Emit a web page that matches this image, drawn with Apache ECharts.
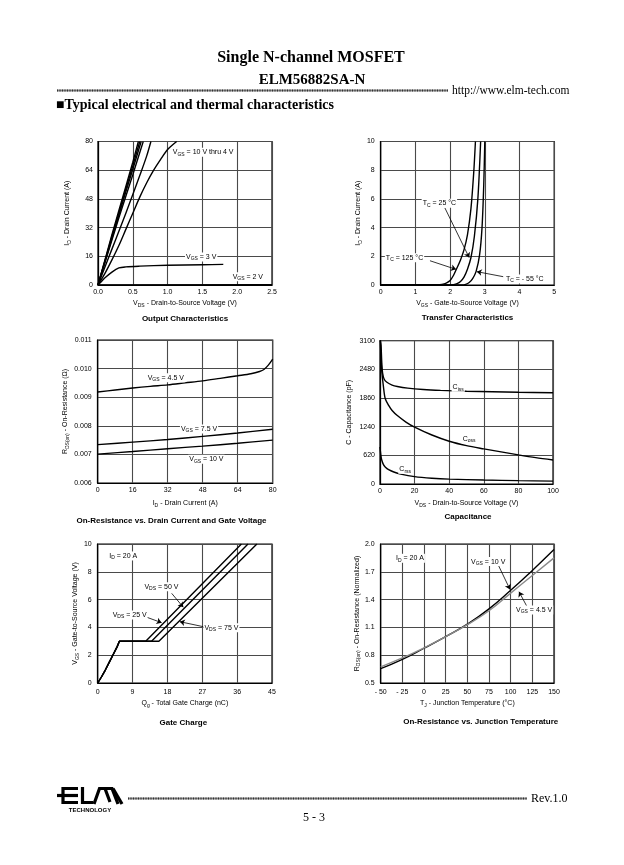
<!DOCTYPE html>
<html><head><meta charset="utf-8">
<script src="https://cdn.jsdelivr.net/npm/echarts@6/dist/echarts.min.js"></script>
<style>html,body{margin:0;padding:0;background:#fff}#c{width:624px;height:865px}</style>
</head><body><div id="c"></div>
<script>
// ---------- DATA ----------
// Output characteristics: [VDS (V), ID (A)]
const outVgs10 = [[0,0],[0.1,14],[0.2,28],[0.3,41.5],[0.4,55],[0.5,68.5],[0.58,80]];
const outVgs8  = [[0,0],[0.1,13.5],[0.2,27],[0.3,40],[0.4,53.5],[0.5,66.5],[0.6,80]];
const outVgs6  = [[0,0],[0.1,13],[0.2,26],[0.3,39],[0.4,52],[0.5,64.5],[0.62,80]];
const outVgs5  = [[0,0],[0.1,12.5],[0.2,25],[0.3,37.5],[0.4,49.5],[0.5,61.5],[0.65,80]];
const outVgs45 = [[0,0],[0.1,10],[0.2,20],[0.3,30],[0.4,40],[0.5,50.5],[0.6,61],[0.7,72],[0.76,80]];
const outVgs4  = [[0,0],[0.1,6.5],[0.2,14],[0.3,22],[0.4,31],[0.5,40],[0.6,49],[0.7,57],[0.8,64],[0.9,70],[1.0,75.5],[1.13,80]];
const outVgs3  = [[0,0],[0.05,2],[0.1,4],[0.2,7.2],[0.3,9.5],[0.4,10.1],[0.6,10.5],[1.0,11],[1.5,11.3],[1.8,11.5]];
const outVgs2  = [[0,0],[2.5,0.1]];
// Transfer characteristics: [VGS (V), ID (A)]
const trT125 = [[0,0],[1.6,0],[1.7,0.02],[1.8,0.06],[1.9,0.15],[2.0,0.32],[2.1,0.68],[2.2,1.2],[2.3,1.75],[2.4,2.45],[2.5,3.5],[2.6,5.3],[2.68,7.8],[2.73,10]];
const trT25  = [[0,0],[2.0,0],[2.1,0.03],[2.2,0.1],[2.3,0.25],[2.4,0.55],[2.5,1.1],[2.6,1.9],[2.7,3.4],[2.8,6.0],[2.88,10]];
const trTm55 = [[0,0],[2.35,0],[2.45,0.05],[2.55,0.18],[2.65,0.45],[2.75,0.95],[2.85,2.1],[2.92,4.0],[2.97,7.0],[3.0,10]];
// On-resistance vs drain current: [ID (A), RDS(on) (ohm)]
const rdsVgs45 = [[0,0.00918],[8,0.00925],[16,0.00932],[24,0.00938],[32,0.00943],[40,0.0095],[48,0.00957],[56,0.00966],[64,0.00975],[70,0.00982],[74,0.0099],[76,0.00997],[78,0.01012],[80,0.01033]];
const rdsVgs75 = [[0,0.00734],[16,0.00743],[32,0.00752],[48,0.00763],[64,0.00775],[80,0.00788]];
const rdsVgs10 = [[0,0.00701],[16,0.0071],[32,0.0072],[48,0.00729],[64,0.00739],[80,0.0075]];
// Capacitance: [VDS (V), C (pF)]
const capCiss = [[0.2,3100],[0.6,3000],[1,2650],[1.5,2400],[2.5,2260],[4,2200],[7,2140],[10,2110],[16,2075],[25,2045],[35,2025],[50,2005],[65,1995],[80,1985],[100,1975]];
const capCoss = [[0.2,3100],[0.5,2800],[1,2450],[2,2100],[3,1850],[5,1700],[7,1590],[10,1480],[15,1340],[20,1230],[30,1060],[40,925],[50,830],[60,760],[70,695],[80,630],[90,570],[100,520]];
const capCrss = [[0,800],[0.5,620],[1,520],[2,420],[3,370],[5,310],[8,260],[12,215],[20,160],[30,125],[40,105],[60,85],[80,72],[100,62]];
// Gate charge: [Qg (nC), VGS (V)]
const qgVds25 = [[0,0],[1,0.45],[2,0.95],[3,1.5],[4,2.05],[5,2.6],[5.6,3],[12.4,3],[37.1,10]];
const qgVds50 = [[0,0],[1,0.45],[2,0.95],[3,1.5],[4,2.05],[5,2.6],[5.6,3],[13.9,3],[38.8,10]];
const qgVds75 = [[0,0],[1,0.45],[2,0.95],[3,1.5],[4,2.05],[5,2.6],[5.6,3],[15.8,3],[41.1,10]];
// On-resistance vs junction temperature: [TJ (°C), normalized]
const tjVgs10 = [[-50,0.655],[-25,0.755],[0,0.875],[25,1.0],[50,1.135],[75,1.3],[100,1.5],[125,1.715],[150,1.94]];
const tjVgs45 = [[-50,0.675],[-25,0.77],[0,0.88],[25,1.0],[50,1.13],[75,1.28],[100,1.47],[125,1.66],[150,1.85]];

// ---------- STYLE HELPERS ----------
const SANS = 'Liberation Sans, Arial, Helvetica, sans-serif';
const SERIF = 'Liberation Serif, Times New Roman, serif';
const RICH = {
  t: {fontSize: 7, fontFamily: SANS, color: '#000', lineHeight: 9},
  s: {fontSize: 5, fontFamily: SANS, color: '#000', lineHeight: 9, verticalAlign: 'bottom', padding: [3, 0, 0, 0]}
};
const GRIDC = '#4a4a4a';
function sub(main, s, rest) { return '{t|' + main + '}{s|' + s + '}{t|' + rest + '}'; }

const grids = [
  {left: 98, top: 141.5, width: 174, height: 143.5},
  {left: 380.7, top: 141.5, width: 173.5, height: 143.5},
  {left: 97.7, top: 340, width: 175, height: 143},
  {left: 380, top: 340.7, width: 173, height: 143.3},
  {left: 97.7, top: 544, width: 174.3, height: 139},
  {left: 380.7, top: 544, width: 173.3, height: 139}
].map(g => Object.assign({show: true, borderColor: '#000', borderWidth: 1.2, backgroundColor: 'transparent'}, g));

function axis(dim, g, min, max, interval, fmt, name, gap, margin) {
  return {
    type: 'value', gridIndex: g, min: min, max: max, interval: interval,
    axisLine: {show: true, onZero: false, lineStyle: {color: '#000', width: 1.2}},
    axisTick: {show: false},
    axisLabel: {margin: margin, fontSize: 7, color: '#000', fontFamily: SANS, formatter: fmt},
    splitLine: {show: true, lineStyle: {color: GRIDC, width: 1.1}},
    name: name, nameLocation: 'middle', nameGap: gap,
    nameRotate: dim === 'y' ? 90 : 0,
    nameTextStyle: {rich: RICH}
  };
}
const f1 = v => v.toFixed(1);
const f3 = v => v.toFixed(3);
const f0 = v => String(Math.round(v));

const xAxes = [
  axis('x', 0, 0, 2.5, 0.5, f1, sub('V', 'DS', ' - Drain-to-Source Voltage (V)'), 14, 4),
  axis('x', 1, 0, 5, 1, f0, sub('V', 'GS', ' - Gate-to-Source Voltage (V)'), 14, 4),
  axis('x', 2, 0, 80, 16, f0, sub('I', 'D', ' - Drain Current (A)'), 16, 4),
  axis('x', 3, 0, 100, 20, f0, sub('V', 'DS', ' - Drain-to-Source Voltage (V)'), 15, 4),
  axis('x', 4, 0, 45, 9, f0, sub('Q', 'g', ' - Total Gate Charge (nC)'), 16, 6),
  axis('x', 5, -50, 150, 25, v => (v < 0 ? '- ' + Math.abs(v) : String(v)), sub('T', 'J', ' - Junction Temperature (°C)'), 16, 6)
];
const yAxes = [
  axis('y', 0, 0, 80, 16, f0, sub('I', 'D', ' - Drain Current (A)'), 26, 5),
  axis('y', 1, 0, 10, 2, f0, sub('I', 'D', ' - Drain Current (A)'), 17, 6),
  axis('y', 2, 0.006, 0.011, 0.001, f3, sub('R', 'DS(on)', ' - On-Resistance (Ω)'), 28, 6),
  axis('y', 3, 0, 3100, 620, f0, '{t|C - Capacitance (pF)}', 26, 5),
  axis('y', 4, 0, 10, 2, f0, sub('V', 'GS', ' - Gate-to-Source Voltage (V)'), 17, 6),
  axis('y', 5, 0.5, 2.0, 0.3, f1, sub('R', 'DS(on)', ' - On-Resistance (Normalized)'), 17, 6)
];

function labelPt(coord, text, bg) {
  return {coord: coord, value: 0, symbol: 'circle', symbolSize: 0,
    label: {show: true, position: 'right', distance: 0, formatter: text, rich: RICH,
      backgroundColor: bg ? '#fff' : 'transparent', padding: [0, 1, 0, 1]}};
}
function marks(labels, arrows) {
  const o = {};
  if (labels) o.markPoint = {silent: true, animation: false, symbolSize: 0, itemStyle: {color: 'transparent'}, data: labels};
  if (arrows) o.markLine = {silent: true, animation: false, symbol: ['none', 'arrow'], symbolSize: 5,
    lineStyle: {color: '#000', width: 0.8, type: 'solid'}, label: {show: false},
    data: arrows.map(a => [{coord: a[0]}, {coord: a[1]}])};
  return o;
}
function ser(g, data, extra, color, width, smooth) {
  return Object.assign({type: 'line', xAxisIndex: g, yAxisIndex: g, data: data, showSymbol: false, symbol: 'none',
    smooth: smooth === undefined ? 0.3 : smooth, animation: false,
    lineStyle: {color: color || '#000', width: width || 1.4}, z: 3}, extra || {});
}

const series = [
  ser(0, outVgs10, marks([
    labelPt([1.06, 74], sub('V', 'GS', ' = 10 V thru 4 V'), true),
    labelPt([1.25, 15.6], sub('V', 'GS', ' = 3 V'), true),
    labelPt([1.92, 4.6], sub('V', 'GS', ' = 2 V'), true)
  ])),
  ser(0, outVgs8), ser(0, outVgs6), ser(0, outVgs5), ser(0, outVgs45), ser(0, outVgs4), ser(0, outVgs3), ser(0, outVgs2),

  ser(1, trT125, marks([
    labelPt([1.18, 5.69], sub('T', 'C', ' = 25 °C'), true),
    labelPt([0.12, 1.9], sub('T', 'C', ' = 125 °C'), true),
    labelPt([3.58, 0.42], sub('T', 'C', ' = - 55 °C'), true)
  ], [
    [[1.85, 5.37], [2.55, 1.91]],
    [[1.42, 1.69], [2.17, 1.09]],
    [[3.53, 0.58], [2.77, 0.93]]
  ])),
  ser(1, trT25), ser(1, trTm55),

  ser(2, rdsVgs45, marks([
    labelPt([22.4, 0.00968], sub('V', 'GS', ' = 4.5 V'), true),
    labelPt([37.6, 0.00789], sub('V', 'GS', ' = 7.5 V'), true),
    labelPt([41.4, 0.00683], sub('V', 'GS', ' = 10 V'), true)
  ])),
  ser(2, rdsVgs75), ser(2, rdsVgs10),

  ser(3, capCiss, marks([
    labelPt([41.4, 2092], sub('C', 'iss', ''), true),
    labelPt([47.2, 973], sub('C', 'oss', ''), true),
    labelPt([10.6, 318], sub('C', 'rss', ''), true)
  ])),
  ser(3, capCoss), ser(3, capCrss),

  ser(4, qgVds25, marks([
    labelPt([2.74, 9.14], sub('I', 'D', ' = 20 A'), true),
    labelPt([11.8, 6.93], sub('V', 'DS', ' = 50 V'), true),
    labelPt([3.6, 4.89], sub('V', 'DS', ' = 25 V'), true),
    labelPt([27.3, 3.98], sub('V', 'DS', ' = 75 V'), true)
  ], [
    [[19.1, 6.45], [22.1, 5.45]],
    [[11.8, 4.82], [16.5, 4.34]],
    [[27.3, 4.05], [21.2, 4.41]]
  ]), null, 1.4, false),
  ser(4, qgVds50, null, null, 1.4, false), ser(4, qgVds75, null, null, 1.4, false),

  ser(5, tjVgs10, marks([
    labelPt([-33.5, 1.846], sub('I', 'D', ' = 20 A'), true),
    labelPt([53.1, 1.81], sub('V', 'GS', ' = 10 V'), true),
    labelPt([105, 1.288], sub('V', 'GS', ' = 4.5 V'), true)
  ], [
    [[85.7, 1.773], [99.2, 1.51]],
    [[118.5, 1.33], [109.6, 1.485]]
  ]), '#000', 1.4, true),
  ser(5, tjVgs45, null, '#8a8a8a', 1.4, true)
];

// ---------- PAGE DECORATION ----------
function txt(x, y, text, size, weight, family, align) {
  return {type: 'text', x: x, y: y, silent: true,
    style: {text: text, fontSize: size, fontWeight: weight || 'normal', fontFamily: family || SERIF,
      fill: '#000', align: align || 'center', verticalAlign: 'middle'}};
}
function hatch(x1, x2, y) {
  return {type: 'group', silent: true, children: [
    {type: 'line', shape: {x1: x1, y1: y, x2: x2, y2: y}, style: {stroke: '#888', lineWidth: 2.2}},
    {type: 'line', shape: {x1: x1, y1: y, x2: x2, y2: y}, style: {stroke: '#333', lineWidth: 2.2, lineDash: [1, 1.5]}}
  ]};
}
const chartTitles = [
  [185, 318.3, 'Output Characteristics'],
  [467.5, 317.7, 'Transfer Characteristics'],
  [171.5, 521, 'On-Resistance vs. Drain Current and Gate Voltage'],
  [468, 516.7, 'Capacitance'],
  [183.3, 722.7, 'Gate Charge'],
  [480.7, 721.7, 'On-Resistance vs. Junction Temperature']
];
const L = {stroke: '#000', lineWidth: 3.2, lineCap: 'butt', lineJoin: 'miter'};
const graphic = [
  txt(311, 57.5, 'Single N-channel MOSFET', 16, 'bold'),
  txt(312, 80.5, 'ELM56882SA-N', 15, 'bold'),
  hatch(57, 448, 90.5),
  txt(452, 91, 'http://www.elm-tech.com', 11.5, 'normal', SERIF, 'left'),
  txt(56, 105, '■Typical electrical and thermal characteristics', 14, 'bold', SERIF, 'left'),
  hatch(128, 527, 798.5),
  txt(531, 798.5, 'Rev.1.0', 12, 'normal', SERIF, 'left'),
  txt(314, 818, '5 - 3', 12, 'normal', SERIF, 'center'),
  // ELM logo
  {type: 'polyline', silent: true, shape: {points: [[78, 788.5], [63, 788.5], [63, 802.5], [78, 802.5]]}, style: Object.assign({fill: null}, L)},
  {type: 'line', silent: true, shape: {x1: 57, y1: 795.5, x2: 78, y2: 795.5}, style: L},
  {type: 'polyline', silent: true, shape: {points: [[82.5, 787], [82.5, 802.5], [93, 802.5]]}, style: Object.assign({fill: null}, L)},
  {type: 'polyline', silent: true, shape: {points: [[94, 804], [99.5, 788.5], [105, 788.5], [110, 802]]}, style: Object.assign({fill: null}, L)},
  {type: 'polyline', silent: true, shape: {points: [[106, 788.5], [112, 788.5], [118, 804]]}, style: Object.assign({fill: null}, L)},
  {type: 'line', silent: true, shape: {x1: 113, y1: 788.5, x2: 122, y2: 804}, style: L},
  txt(90, 810.5, 'TECHNOLOGY', 6, 'bold', SANS, 'center')
].concat(chartTitles.map(t => txt(t[0], t[1], t[2], 8, 'bold', SANS, 'center')));

const chart = echarts.init(document.getElementById('c'), null, {renderer: 'canvas'});
chart.setOption({
  backgroundColor: '#fff',
  animation: false,
  grid: grids,
  xAxis: xAxes,
  yAxis: yAxes,
  series: series,
  graphic: graphic
});
</script>
</body></html>
